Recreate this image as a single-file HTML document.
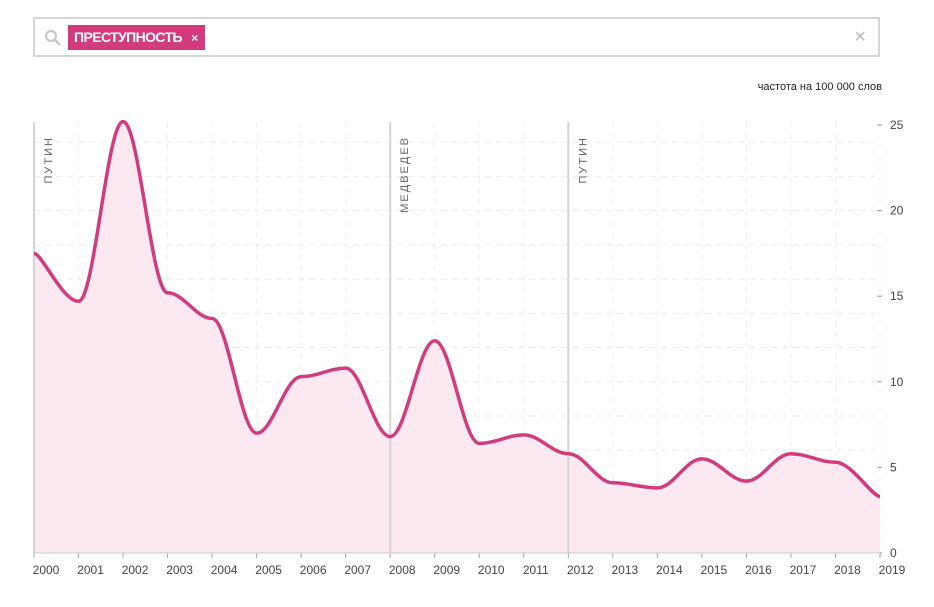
<!DOCTYPE html>
<html><head><meta charset="utf-8"><style>
body{margin:0;background:#fff;font-family:"Liberation Sans","Noto Sans CJK SC",sans-serif;}
#wrap{position:relative;width:934px;height:607px;overflow:hidden;}
#search{position:absolute;left:33px;top:17px;width:847px;height:40px;border:2px solid #d6d6d6;box-sizing:border-box;}
#tag{position:absolute;left:33px;top:6px;height:25px;background:#d23c7e;color:#fff;font-weight:bold;font-size:14px;line-height:25px;padding:0 7px 0 6px;letter-spacing:-0.6px;}
</style></head><body>
<div id="wrap">
<div id="search">
 <svg style="position:absolute;left:9px;top:10px" width="18" height="18"><circle cx="7" cy="7" r="5" fill="none" stroke="#c8c8c8" stroke-width="2.2"/><line x1="11" y1="11" x2="16" y2="16" stroke="#c8c8c8" stroke-width="2.6"/></svg>
 <div id="tag">ПРЕСТУПНОСТЬ <span style="font-size:12px;margin-left:6px">×</span></div>
 <span style="position:absolute;right:12px;top:7px;color:#bbb;font-size:20px">×</span>
</div>
<div style="position:absolute;right:52px;top:81px;font-size:11px;color:#222">частота на 100 000 слов</div>
<svg id="chart" width="934" height="607" style="position:absolute;left:0;top:0"></svg>
</div>
<script>
const years=[2000,2001,2002,2003,2004,2005,2006,2007,2008,2009,2010,2011,2012,2013,2014,2015,2016,2017,2018,2019];
const values=[17.5,14.7,25.2,15.2,13.7,7.0,10.3,10.8,6.8,12.4,6.4,6.9,5.8,4.1,3.8,5.5,4.2,5.8,5.3,3.3];
const yTicks=[0,5,10,15,20,25];
const gridVals=[2,4,6,8,10,12,14,16,18,20,22,24];
const eras=[{year:2000,name:"ПУТИН"},{year:2008,name:"МЕДВЕДЕВ"},{year:2012,name:"ПУТИН"}];
const NS="http://www.w3.org/2000/svg";
const svg=document.getElementById('chart');
const x=y=>34+(y-2000)*(880-34)/19;
const yS=v=>553-v*(553-125)/25;
function mk(t,a,p){const e=document.createElementNS(NS,t);for(const k in a)e.setAttribute(k,a[k]);(p||svg).appendChild(e);return e;}
gridVals.forEach(v=>{const l=mk('line',{x1:34,x2:880,y1:yS(v),y2:yS(v),stroke:'#ebebeb','stroke-dasharray':'6 5'});

});
years.forEach(yr=>{const l=mk('line',{x1:x(yr),x2:x(yr),y1:122,y2:553,stroke:'#f0f0f0','stroke-dasharray':'6 5'});


const t=mk('line',{x1:x(yr),x2:x(yr),y1:553,y2:558,stroke:'#aaa'});


const tx=mk('text',{x:x(yr)+12,y:574,'font-size':12,fill:'#444','text-anchor':'middle','font-family':'Liberation Sans, sans-serif'});
tx.textContent=yr;

});
yTicks.forEach(v=>{const t=mk('line',{x1:877,x2:882,y1:yS(v),y2:yS(v),stroke:'#999'});


const tx=mk('text',{x:890,y:yS(v)+4,'font-size':12,fill:'#444','font-family':'Liberation Sans, sans-serif'});
tx.textContent=v;

});
const pts=years.map((yr,i)=>[x(yr),yS(values[i])]);
let d='M'+pts[0][0]+','+pts[0][1];
for(let i=0;i<pts.length-1;i++){const p0=pts[Math.max(0,i-1)],p1=pts[i],p2=pts[i+1],p3=pts[Math.min(pts.length-1,i+2)];
const t=0.18;
const c1=[p1[0]+(p2[0]-p0[0])*t,p1[1]];
const c2=[p2[0]-(p3[0]-p1[0])*t,p2[1]];
d+=' C'+c1[0]+','+c1[1]+' '+c2[0]+','+c2[1]+' '+p2[0]+','+p2[1];}
const area=mk('path',{d:d+' L880,553 L34,553 Z',fill:'#fbe8f0'});


eras.forEach(e=>{const l=mk('line',{x1:x(e.year),x2:x(e.year),y1:122,y2:553,stroke:'#d5d5d5','stroke-width':2});


const t=mk('text',{transform:'translate('+(x(e.year)+18)+',136) rotate(-90)','text-anchor':'end','font-size':11,fill:'#666','letter-spacing':'2','font-family':'Liberation Sans, sans-serif'});
t.textContent=e.name;

});
const base=mk('line',{x1:34,x2:880,y1:553,y2:553,stroke:'#ccc'});


const line=mk('path',{d:d,fill:'none',stroke:'#d23c7e','stroke-width':3.5,'stroke-linejoin':'round'});


</script>
</body></html>
